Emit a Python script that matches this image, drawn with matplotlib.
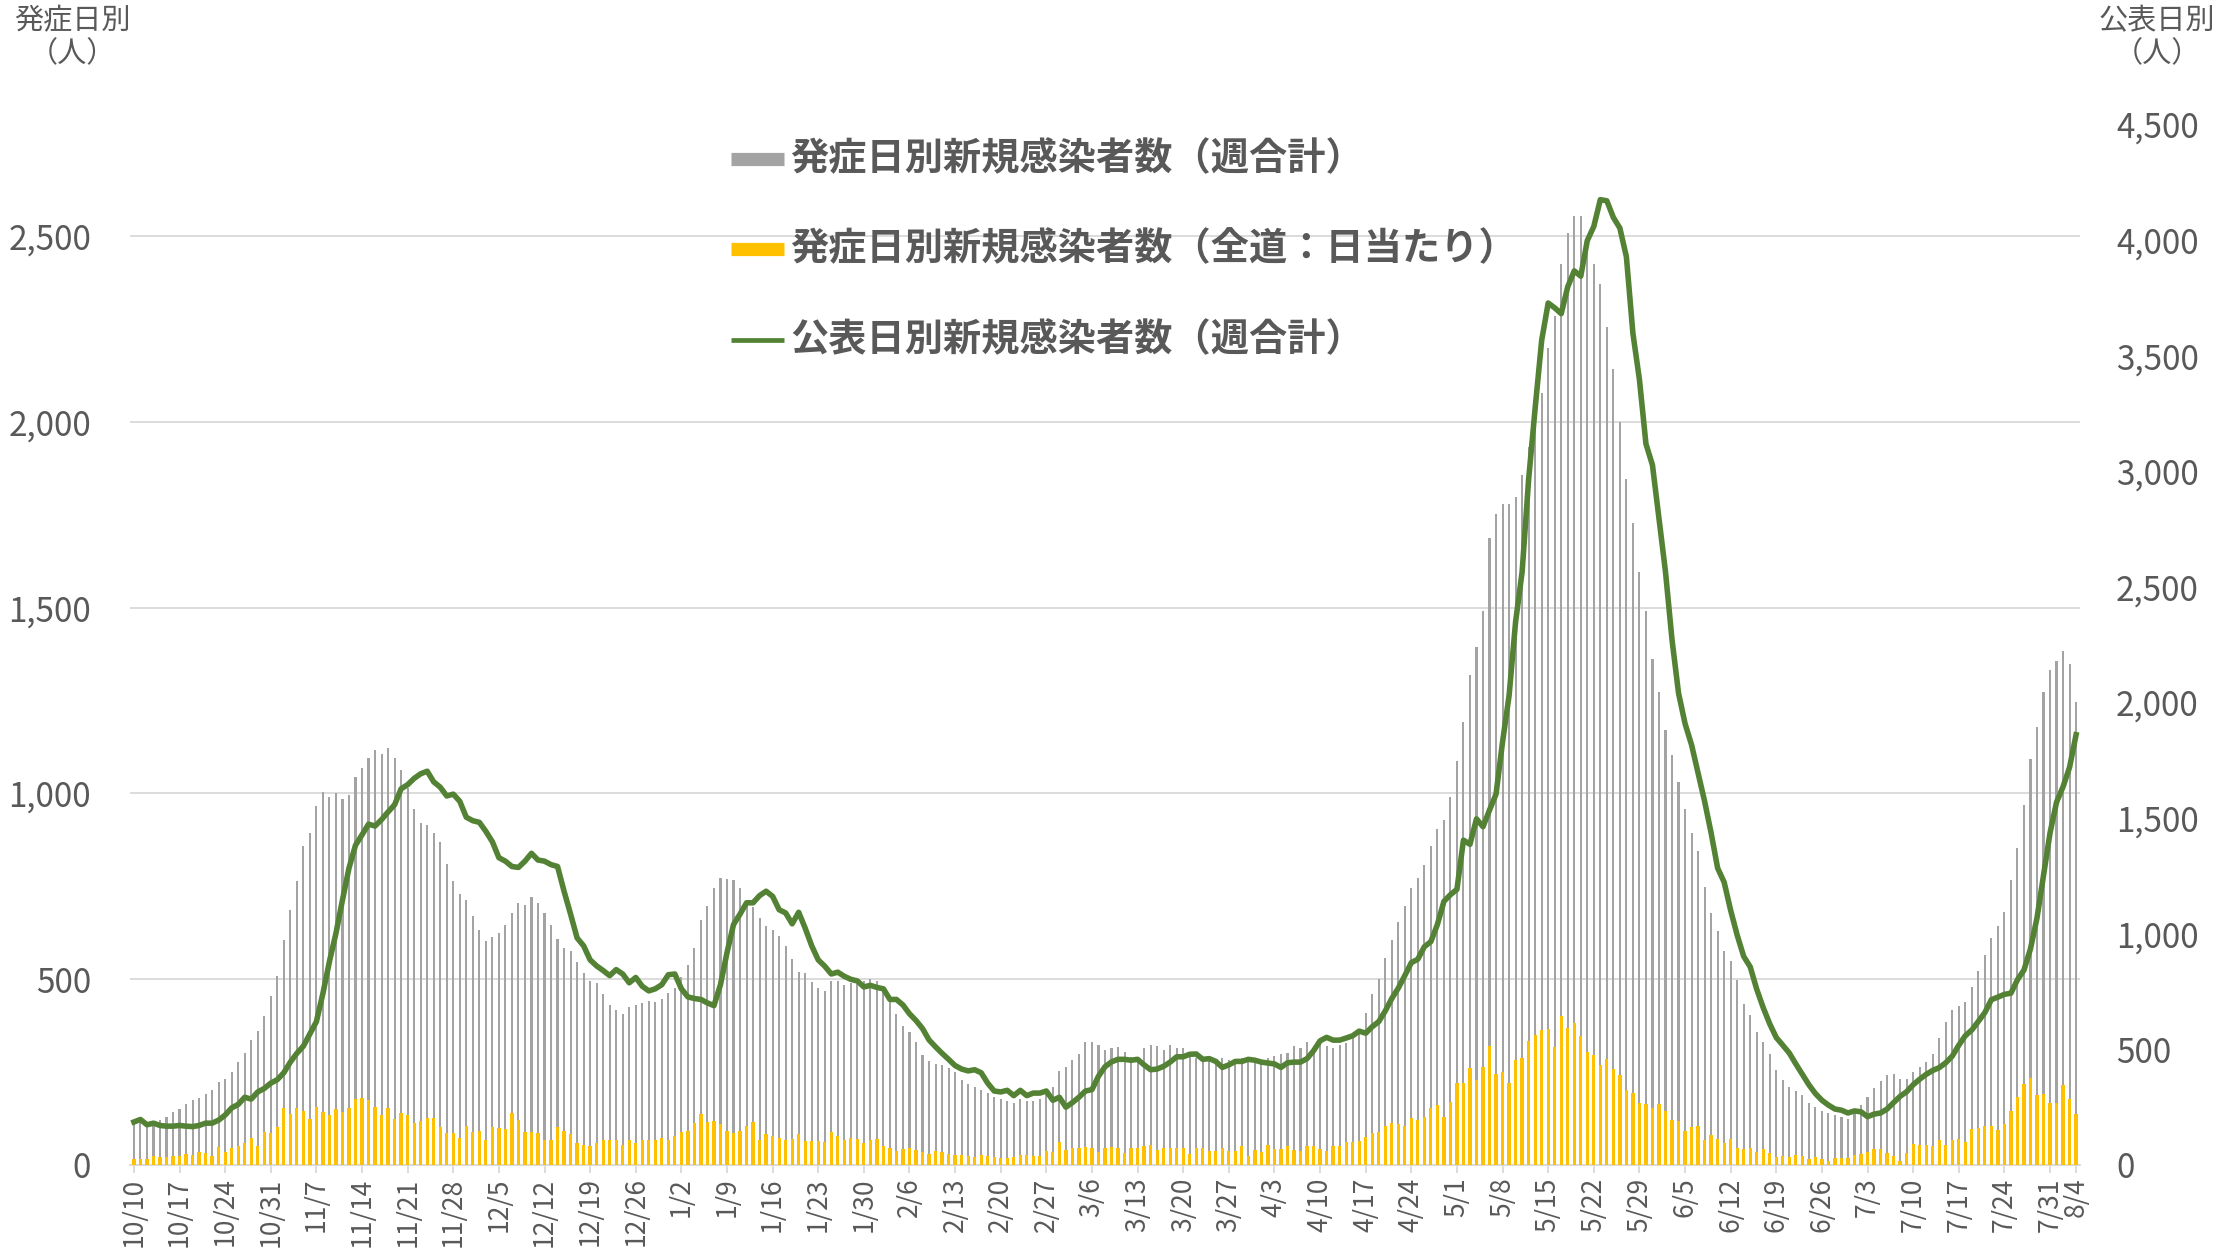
import numpy as np
import pandas as pd
import matplotlib
matplotlib.use("Agg")
import matplotlib.pyplot as plt
from matplotlib.lines import Line2D
from matplotlib.ticker import FuncFormatter

plt.rcParams['font.family'] = ['Noto Sans CJK JP', 'DejaVu Sans']

# ---------------- data ----------------
dates = pd.date_range('2020-10-10', '2021-08-04', freq='D')
day_labels = [f"{d.month}/{d.day}" for d in dates]

# 発症日別新規感染者数（週合計） left axis
onset_weekly = [
    116, 120, 116, 116, 120, 130, 142, 151, 163, 175, 180, 190, 201, 223, 231, 250, 277, 301, 337, 360,
    400, 454, 508, 606, 685, 764, 859, 894, 965, 1005, 990, 1000, 986, 995, 1045, 1068, 1095, 1117, 1107, 1121,
    1095, 1062, 1015, 958, 920, 915, 894, 868, 811, 764, 728, 713, 670, 633, 604, 614, 623, 647, 677, 704,
    701, 721, 706, 677, 647, 609, 585, 576, 545, 516, 495, 491, 459, 431, 417, 407, 426, 431, 435, 440,
    438, 448, 462, 476, 505, 538, 585, 659, 697, 745, 773, 770, 766, 745, 709, 695, 666, 642, 633, 616,
    590, 554, 519, 516, 492, 476, 469, 495, 495, 484, 491, 486, 495, 500, 495, 467, 438, 407, 374, 358,
    332, 296, 279, 272, 268, 260, 249, 230, 217, 211, 201, 194, 182, 177, 171, 168, 177, 173, 173, 177,
    201, 211, 253, 263, 282, 298, 331, 331, 322, 310, 315, 317, 304, 291, 285, 315, 323, 320, 310, 323,
    315, 315, 296, 287, 291, 288, 282, 287, 282, 285, 287, 285, 282, 279, 287, 294, 298, 301, 320, 315,
    332, 320, 334, 320, 315, 323, 329, 343, 358, 410, 459, 500, 557, 606, 654, 697, 745, 773, 808, 858,
    903, 929, 990, 1088, 1193, 1318, 1395, 1492, 1687, 1751, 1778, 1778, 1797, 1857, 1933, 2056, 2077, 2198, 2286, 2425,
    2507, 2553, 2555, 2488, 2425, 2372, 2256, 2142, 2000, 1847, 1728, 1596, 1490, 1361, 1272, 1170, 1104, 1031, 958, 894,
    844, 747, 677, 630, 575, 550, 498, 434, 404, 358, 330, 299, 256, 228, 210, 199, 189, 166, 156, 145,
    140, 135, 130, 125, 145, 161, 182, 206, 226, 241, 244, 231, 231, 249, 265, 278, 299, 343, 384, 418,
    428, 438, 478, 521, 566, 612, 642, 680, 768, 854, 968, 1092, 1179, 1272, 1331, 1355, 1383, 1348, 1246,
]

# 発症日別新規感染者数（全道：日当たり） left axis
onset_daily = [
    16, 16, 16, 24, 21, 21, 24, 24, 30, 26, 35, 32, 24, 49, 35, 47, 51, 59, 73, 52,
    90, 85, 101, 154, 137, 154, 144, 123, 156, 142, 135, 151, 142, 154, 177, 180, 175, 156, 135, 154,
    123, 139, 135, 114, 118, 127, 127, 101, 87, 85, 73, 104, 89, 92, 68, 101, 99, 97, 139, 120,
    89, 89, 85, 68, 68, 101, 92, 83, 59, 54, 52, 59, 68, 66, 66, 54, 66, 59, 66, 66,
    68, 73, 68, 78, 90, 92, 114, 137, 116, 118, 111, 92, 85, 92, 104, 116, 68, 83, 78, 73,
    68, 70, 83, 64, 64, 64, 61, 89, 78, 66, 73, 70, 59, 68, 70, 51, 47, 38, 42, 45,
    40, 35, 30, 37, 35, 30, 28, 26, 23, 21, 28, 23, 21, 19, 19, 21, 26, 26, 23, 23,
    38, 35, 61, 40, 47, 47, 49, 45, 35, 45, 49, 47, 32, 45, 46, 51, 54, 40, 45, 45,
    47, 45, 30, 47, 45, 38, 38, 45, 38, 38, 51, 23, 40, 35, 54, 42, 42, 51, 40, 38,
    51, 51, 42, 38, 51, 51, 61, 61, 64, 76, 85, 89, 104, 114, 111, 106, 127, 120, 130, 154,
    161, 130, 170, 222, 220, 260, 230, 263, 320, 244, 249, 222, 282, 288, 334, 351, 362, 367, 317, 402,
    370, 383, 348, 304, 296, 269, 285, 258, 241, 201, 194, 168, 163, 154, 165, 146, 120, 118, 92, 101,
    106, 68, 80, 70, 59, 70, 47, 42, 45, 35, 42, 31, 21, 23, 21, 26, 23, 16, 21, 16,
    12, 19, 19, 19, 26, 29, 36, 42, 42, 33, 23, 12, 33, 57, 54, 54, 50, 67, 54, 67,
    71, 62, 96, 99, 106, 104, 93, 109, 145, 182, 218, 234, 189, 192, 166, 166, 216, 177, 137,
]

# 公表日別新規感染者数（週合計） right axis
report_weekly = [
    186, 197, 174, 181, 171, 168, 168, 171, 168, 166, 171, 181, 181, 194, 216, 247, 262, 293, 285, 316,
    331, 354, 369, 399, 445, 483, 514, 567, 620, 742, 880, 1002, 1146, 1284, 1383, 1428, 1474, 1466, 1494, 1527,
    1558, 1627, 1645, 1672, 1692, 1703, 1657, 1634, 1596, 1604, 1573, 1504, 1489, 1482, 1443, 1398, 1329, 1314, 1291, 1287,
    1314, 1348, 1319, 1314, 1299, 1291, 1184, 1085, 982, 948, 887, 861, 841, 819, 845, 826, 788, 811, 773, 753,
    762, 780, 823, 826, 762, 727, 720, 716, 701, 689, 780, 918, 1040, 1085, 1134, 1134, 1165, 1184, 1162, 1104,
    1090, 1043, 1093, 1024, 948, 887, 860, 826, 834, 816, 803, 796, 770, 777, 768, 762, 716, 716, 692, 654,
    625, 590, 541, 511, 483, 457, 430, 415, 407, 412, 399, 354, 320, 316, 323, 300, 323, 300, 311, 311,
    320, 280, 293, 250, 270, 293, 320, 326, 384, 425, 446, 457, 457, 453, 457, 433, 412, 415, 427, 445,
    468, 468, 479, 480, 457, 460, 448, 422, 433, 448, 448, 457, 453, 445, 441, 437, 422, 442, 445, 445,
    460, 494, 537, 552, 540, 540, 549, 559, 579, 570, 598, 620, 666, 720, 765, 819, 875, 890, 944, 966,
    1040, 1140, 1169, 1192, 1405, 1387, 1497, 1463, 1535, 1604, 1830, 2030, 2349, 2565, 2965, 3273, 3566, 3728, 3707, 3682,
    3798, 3867, 3844, 3998, 4059, 4175, 4170, 4098, 4052, 3928, 3597, 3397, 3119, 3027, 2796, 2565, 2272, 2041, 1909, 1817,
    1695, 1573, 1436, 1284, 1223, 1101, 994, 902, 857, 760, 680, 610, 551, 518, 484, 437, 392, 347, 309, 280,
    259, 242, 237, 225, 234, 230, 209, 220, 225, 242, 270, 297, 317, 347, 371, 392, 409, 421, 442, 471,
    518, 559, 584, 621, 659, 715, 726, 738, 743, 801, 843, 935, 1068, 1252, 1436, 1569, 1636, 1720, 1861,
]

tick_labels = ['10/10', '10/17', '10/24', '10/31', '11/7', '11/14', '11/21', '11/28',
               '12/5', '12/12', '12/19', '12/26', '1/2', '1/9', '1/16', '1/23', '1/30',
               '2/6', '2/13', '2/20', '2/27', '3/6', '3/13', '3/20', '3/27', '4/3',
               '4/10', '4/17', '4/24', '5/1', '5/8', '5/15', '5/22', '5/29', '6/5',
               '6/12', '6/19', '6/26', '7/3', '7/10', '7/17', '7/24', '7/31', '8/4']

series_names = ['発症日別新規感染者数（週合計）',
                '発症日別新規感染者数（全道：日当たり）',
                '公表日別新規感染者数（週合計）']
left_title = '発症日別\n（人）'
right_title = '公表日別\n（人）'

# ---------------- styling ----------------
C_GRAY = '#A3A3A3'
C_YEL = '#FFC000'
C_GRN = '#548235'
C_TXT = '#595959'
C_GRID = '#D9D9D9'

W, H = 2222, 1253
fig = plt.figure(figsize=(W / 100, H / 100), dpi=100)
ax = fig.add_axes([130 / W, 88 / H, 1950 / W, 1040.5 / H])

x = np.arange(len(dates))
ax.bar(x, onset_weekly, width=0.32, color=C_GRAY, linewidth=0, zorder=2)
ax.bar(x, onset_daily, width=0.5, color=C_YEL, linewidth=0, zorder=3)

ax.set_xlim(-0.6, len(dates) - 0.4)
ax.set_ylim(0, 2800)
ax.set_yticks(np.arange(0, 2501, 500))
fmt = FuncFormatter(lambda v, p: f'{int(v):,}')
ax.yaxis.set_major_formatter(fmt)
ax.grid(axis='y', color=C_GRID, lw=1.3)
ax.set_axisbelow(True)
for s in ['top', 'left', 'right']:
    ax.spines[s].set_visible(False)
ax.spines['bottom'].set_color(C_GRID)
ax.spines['bottom'].set_linewidth(1.3)

tick_pos = [day_labels.index(t) for t in tick_labels]
ax.set_xticks(tick_pos)
ax.set_xticklabels(tick_labels, rotation=90, fontsize=19, color=C_TXT)
ax.tick_params(axis='x', length=6, width=1.3, color=C_GRID, pad=3)
ax.tick_params(axis='y', length=0, pad=28, labelsize=24, labelcolor=C_TXT)

ax2 = ax.twinx()
ax2.plot(x, report_weekly, color=C_GRN, lw=4.0, solid_joinstyle='round', zorder=4)
ax2.set_ylim(0, 4500)
ax2.set_yticks(np.arange(0, 4501, 500))
ax2.yaxis.set_major_formatter(fmt)
ax2.tick_params(axis='y', length=0, pad=26, labelsize=24, labelcolor=C_TXT)
for s in ['top', 'left', 'right', 'bottom']:
    ax2.spines[s].set_visible(False)

# axis titles
fig.text(72 / W, 1 - 6 / H, left_title, ha='center', va='top', fontsize=21,
         color=C_TXT, linespacing=1.15)
fig.text(2157 / W, 1 - 6 / H, right_title, ha='center', va='top', fontsize=21,
         color=C_TXT, linespacing=1.15)

# legend (manual)
rows_y = [159, 249, 340]
handle_styles = [dict(color=C_GRAY, lw=9.5), dict(color=C_YEL, lw=9.5), dict(color=C_GRN, lw=3.4)]
for yy, name, st in zip(rows_y, series_names, handle_styles):
    yf = 1 - yy / H
    fig.add_artist(Line2D([731 / W, 784 / W], [yf, yf], transform=fig.transFigure,
                          solid_capstyle='butt', **st))
    fig.text(790 / W, yf, name, ha='left', va='center', fontsize=27.5,
             fontweight='bold', color=C_TXT)

fig.savefig('out.png', dpi=100)
